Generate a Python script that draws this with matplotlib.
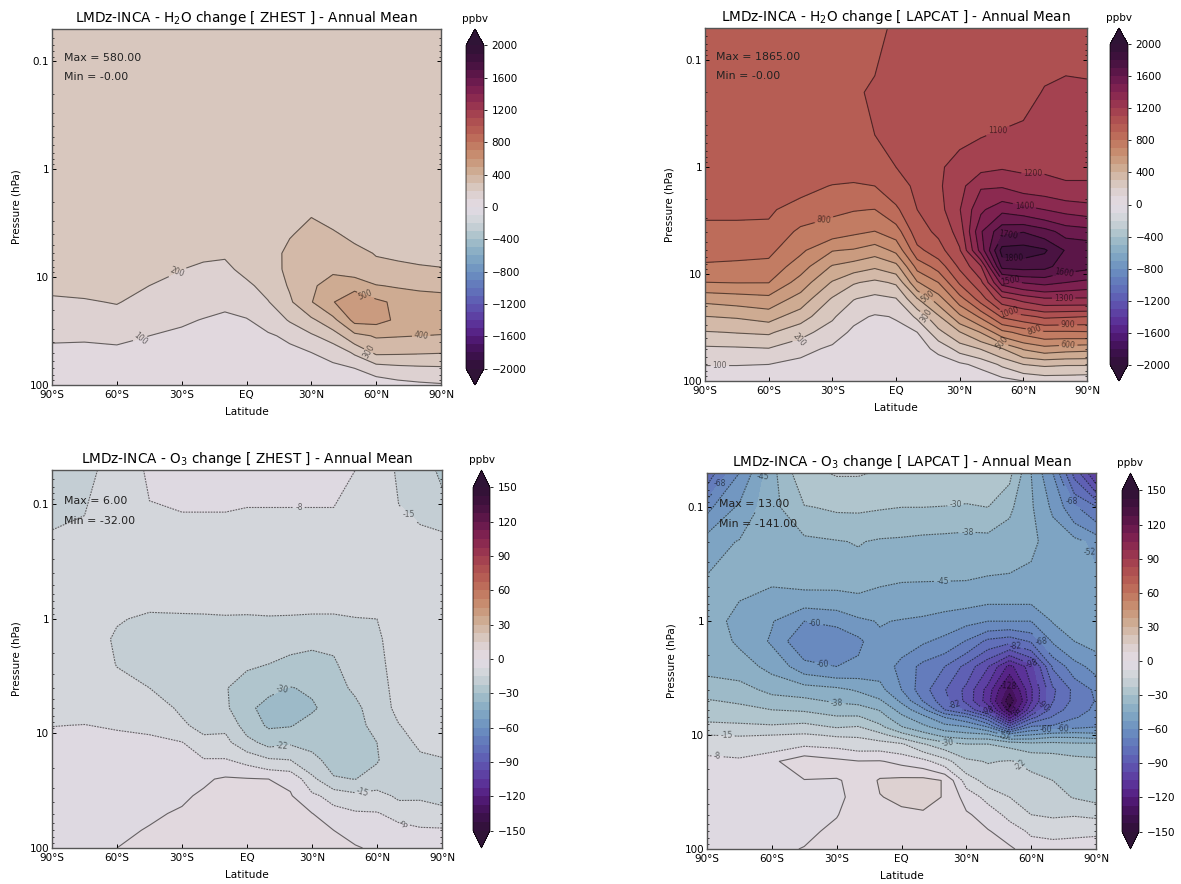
import numpy as np
import matplotlib
matplotlib.use('Agg')
import matplotlib.pyplot as plt

plt.rcParams['contour.negative_linestyle'] = 'dashed'
plt.rcParams['lines.dashed_pattern'] = (1.6, 0.9)
plt.rcParams['axes.unicode_minus'] = True

lats = [-90, -75, -60, -45, -30, -20, -10, 0, 10, 20, 30, 40, 50, 60, 70, 80, 90]
plevs = [100, 70, 50, 35, 25, 17, 12, 8.5, 6, 4, 2.5, 1.5, 1, 0.5, 0.2, 0.05]
plevs_fine = [100, 70, 50, 35, 25, 17, 12, 10, 8.5, 7, 6, 5, 4, 2.5, 1.5, 1, 0.5, 0.2, 0.1, 0.05]

# one row per latitude, from 100 hPa upwards
h2o_zhest = [
    [40, 60, 80, 113, 150, 185, 220, 240, 250, 255, 260, 260, 260, 260, 260, 260],
    [35, 55, 80, 110, 145, 192, 225, 240, 250, 255, 260, 260, 260, 260, 260, 260],
    [30, 50, 85, 115, 160, 205, 235, 245, 250, 255, 260, 260, 260, 260, 260, 260],
    [35, 55, 80, 100, 135, 170, 200, 225, 240, 250, 258, 260, 260, 260, 260, 260],
    [25, 45, 65, 85, 110, 145, 175, 200, 225, 245, 255, 260, 260, 260, 260, 260],
    [20, 35, 55, 75, 97, 125, 155, 185, 215, 240, 255, 260, 260, 260, 260, 260],
    [15, 30, 45, 65, 85, 115, 145, 180, 210, 240, 255, 260, 260, 260, 260, 260],
    [20, 35, 55, 75, 95, 135, 180, 225, 250, 260, 262, 262, 260, 260, 260, 260],
    [25, 40, 65, 90, 130, 195, 235, 255, 265, 268, 265, 262, 260, 260, 260, 260],
    [30, 55, 80, 115, 210, 285, 310, 325, 320, 295, 270, 265, 262, 260, 260, 260],
    [30, 65, 100, 185, 280, 395, 385, 365, 340, 320, 295, 265, 262, 260, 260, 260],
    [45, 80, 130, 250, 370, 495, 440, 385, 350, 310, 270, 260, 260, 260, 260, 260],
    [60, 100, 215, 370, 530, 570, 470, 345, 325, 280, 265, 260, 260, 260, 260, 260],
    [40, 150, 320, 410, 530, 525, 405, 325, 295, 275, 265, 260, 260, 260, 260, 260],
    [65, 170, 315, 405, 485, 475, 390, 320, 285, 270, 262, 260, 260, 260, 260, 260],
    [80, 180, 310, 400, 450, 450, 380, 310, 280, 270, 262, 260, 260, 260, 260, 260],
    [90, 185, 305, 395, 450, 440, 375, 305, 275, 268, 262, 260, 260, 260, 260, 260],
]

h2o_lapcat = [
    [50, 103, 180, 293, 398, 530, 698, 787, 833, 880, 915, 945, 960, 975, 985, 990],
    [50, 103, 185, 305, 410, 550, 703, 780, 830, 880, 915, 945, 960, 975, 985, 990],
    [45, 100, 195, 315, 440, 570, 702, 770, 825, 875, 915, 945, 960, 975, 985, 990],
    [30, 70, 135, 235, 345, 460, 555, 645, 720, 780, 855, 935, 965, 985, 990, 995],
    [25, 50, 80, 150, 215, 290, 390, 490, 605, 750, 820, 895, 960, 985, 995, 998],
    [20, 40, 65, 80, 125, 205, 310, 450, 590, 720, 805, 885, 955, 990, 990, 995],
    [18, 35, 55, 75, 90, 170, 275, 415, 545, 698, 798, 900, 975, 1000, 1010, 985],
    [20, 35, 55, 80, 105, 195, 315, 465, 625, 750, 880, 960, 1000, 1020, 1030, 1010],
    [15, 35, 60, 100, 220, 395, 590, 735, 870, 960, 1000, 1020, 1040, 1050, 1060, 1030],
    [10, 50, 125, 270, 385, 555, 700, 840, 960, 1020, 1060, 1085, 1090, 1070, 1065, 1045],
    [20, 80, 240, 395, 575, 760, 915, 1020, 1090, 1140, 1195, 1165, 1125, 1085, 1075, 1060],
    [15, 130, 305, 505, 720, 950, 1075, 1190, 1440, 1490, 1380, 1290, 1170, 1095, 1070, 1060],
    [60, 220, 395, 670, 915, 1170, 1440, 1730, 1840, 1670, 1475, 1290, 1190, 1110, 1060, 1060],
    [100, 300, 510, 735, 970, 1240, 1505, 1740, 1850, 1695, 1440, 1250, 1180, 1120, 1075, 1070],
    [130, 320, 560, 785, 1020, 1290, 1530, 1730, 1815, 1640, 1400, 1240, 1180, 1130, 1105, 1075],
    [130, 310, 540, 785, 1010, 1290, 1500, 1650, 1690, 1560, 1370, 1210, 1180, 1150, 1120, 1070],
    [120, 310, 530, 790, 1000, 1290, 1470, 1630, 1680, 1540, 1350, 1205, 1190, 1160, 1120, 1060],
]

o3_zhest = [
    [-1, -2, -3, -3.5, -4, -5, -6, -7.6, -9, -10, -10.5, -11, -11, -11, -13.6, -20],
    [-0.5, -2, -3, -3.5, -4, -5, -6, -7.4, -9, -10.5, -11, -11, -11, -11, -13, -17],
    [0, -1.5, -2.5, -3, -3.5, -4.5, -6, -8, -11, -13, -15.2, -16, -14.5, -12, -11, -12],
    [1.5, 0.5, -1, -2, -3, -4, -6, -9, -12, -15, -16.5, -17, -16, -12, -10, -6.5],
    [3, 2, 0.8, -1, -3, -5.5, -7.2, -14, -16, -17, -18, -18, -15.8, -12, -10, -5.5],
    [4, 3.5, 2.5, 1, -1, -7, -13, -17, -18, -18.5, -19, -19, -15.7, -12, -10, -5.5],
    [5, 5, 4, 3, 1, -7, -13, -16.5, -21, -22, -20, -19, -15.5, -12, -10, -5.5],
    [5, 5, 4, 2.5, 0.5, -10, -20, -26, -29, -26, -21.5, -19, -15.6, -12, -10, -6],
    [4, 4, 3, 1.5, 0, -14, -25, -31, -31.5, -29, -22.6, -19, -15.4, -12, -10, -6],
    [3, 3, 2, 0.6, -1.5, -15, -23.5, -30.5, -32, -30.3, -24.5, -20, -15.5, -12, -10, -6],
    [2, 1.5, 0.2, -6, -13, -21, -24, -27, -31, -29, -25, -21, -15.7, -12, -10, -6],
    [1, 0, -5, -10, -22, -24.5, -25, -25, -27, -24.5, -23.5, -21, -15.7, -12, -10, -6],
    [0.5, -2, -6.5, -13, -22.6, -25, -25, -24, -24, -21.5, -18.5, -17, -15.2, -12, -10, -7.5],
    [-1, -4, -7, -12, -20, -23, -22.5, -21, -19, -18, -17, -16, -15, -12, -10, -9],
    [-2, -5, -10, -16.5, -17, -18, -17, -15.3, -13, -12.5, -12, -12, -12, -11, -12, -16.5],
    [-3, -6.5, -11.5, -16, -16.5, -16, -14, -12, -11, -11, -11, -11, -11, -11, -13, -19],
    [-3.5, -6.5, -13, -17, -16, -15.4, -13, -11.5, -11, -11, -11, -11, -11, -11.5, -13, -24],
]

o3_lapcat = [
    [-2, -3, -4, -4.5, -5, -6, -10, -15, -20, -24.5, -27, -29.5, -33, -40, -41.5, -42, -43, -48.5, -62, -80],
    [-1, -2, -3, -4, -5, -6.5, -11, -15.5, -20, -26, -28, -31, -34, -42, -46, -47, -44, -44.5, -51, -60],
    [-1, -1.5, -3, -3.5, -4, -1.5, -12, -15, -21, -27, -30, -34, -40, -47, -53.5, -52, -45, -41, -40, -40],
    [0.2, -1, -1, -0.5, -0.3, 5, -9, -14, -20, -26, -31, -36, -41, -57, -67, -60, -44, -39.5, -30.5, -24],
    [2, 1, -0.2, -1, -0.3, 2, -10, -16, -23, -29, -34, -38.5, -43, -60, -66, -58, -44, -38, -29, -22],
    [3, 2.5, 2, 1.5, 1, 0.3, -12, -16, -22, -29, -34, -40, -46, -58, -62, -54, -43.5, -37, -29, -22],
    [3, 4, 5, 7.2, 8.5, 0.5, -12, -20, -28, -34, -38, -44, -50, -56, -54, -52, -45, -38.5, -29.5, -23],
    [3, 4, 6, 9, 9.5, -2, -14, -27, -37, -43, -48, -54, -60, -62, -57, -53, -46, -39, -30, -23.5],
    [2, 3, 6.5, 10, 10, -5, -22, -34, -43, -50, -58, -68, -72, -70, -59, -54, -46, -40, -30, -24],
    [2, 2.5, 4, 7, 7, -12, -27, -40, -49, -60, -75, -80, -82, -75, -62, -56, -46, -40.5, -30.3, -24],
    [3, 2, 1, -3, -11, -21, -30, -42, -52, -66, -84, -92, -92, -85, -68, -58, -46, -41, -31, -24],
    [2, 0.5, -3, -10, -18, -23, -30, -43, -60, -80, -100, -109, -108, -97, -77, -60, -47, -41, -30, -23.5],
    [1, -3, -10, -15, -19, -22, -32, -55, -85, -115, -132, -141, -132, -115, -80, -60, -47, -42, -36, -28],
    [-3, -9, -15, -19, -21, -24, -35, -52, -66, -85, -99, -106, -106, -101, -74, -60, -47, -44, -44, -45],
    [-4, -10, -16, -20, -22.5, -25, -35, -48, -66, -74, -79, -83, -84, -74, -59, -52, -48, -47, -54, -60],
    [-3.5, -9.5, -15.5, -23, -25, -27, -36, -48, -62, -68, -71, -73, -73, -63, -52.5, -50.5, -49, -50, -66, -85],
    [-3, -9, -16.5, -25, -25, -28, -36, -50, -60, -65, -66, -67, -66, -57, -50, -50, -49, -55, -74, -105],
]

h2o_levels = np.arange(-2000, 2001, 100)
h2o_ticks = np.arange(-2000, 2001, 400)
o3_levels = np.linspace(-150, 150, 41)
o3_ticks = np.arange(-150, 151, 30)

# manual contour label spots (lat, hPa)
labels_a = [(-32, 8.9), (-48, 38), (55, 15), (81, 35.6), (64.5, 45.6)]
labels_b = [(-83, 71), (-47, 40), (-34, 2.9), (48, 0.43), (64.5, 1.35), (60.5, 2.4),
            (53, 3.9), (55.7, 7.1), (79, 9.1), (54, 11), (79, 16.8), (54, 22),
            (81, 30), (64, 35.5), (81, 45), (48, 45), (15, 16), (15, 24)]
labels_c = [(24, 0.089), (74.5, 0.105), (16.4, 4.34), (16.4, 14), (54.6, 35), (77, 60)]
labels_d = [(25, 0.095), (30.5, 0.153), (19, 0.42), (-40, 1.19), (-36.5, 2.5), (-30, 5.5),
            (-81, 9.9), (-85, 13.7), (21.4, 12.2), (56, 17.6), (48, 10.1), (64.5, 1.6),
            (53, 1.76), (60, 2.86), (49.6, 3.87), (65, 5.07), (51, 6.2), (24.6, 5.6),
            (40, 6.08), (67, 8.9), (74.6, 9), (87, 0.25), (-84, 0.07), (-64, 0.06), (79, 0.092)]

W, H = 1181, 884
fig = plt.figure(figsize=(W / 100, H / 100), dpi=100)


def px_axes(x0, x1, y0, y1):
    return fig.add_axes([x0 / W, 1 - y1 / H, (x1 - x0) / W, (y1 - y0) / H])


def panel(box, cbox, data, plev, levels, ticks, title, maxmin, labels):
    ax = px_axes(*box)
    z = np.array(data).T
    cf = ax.contourf(lats, plev, z, levels=levels, cmap='twilight_shifted', extend='both')
    cs = ax.contour(lats, plev, z, levels=levels, colors='k', linewidths=0.8, alpha=0.55)
    ax.clabel(cs, fmt='%.0f', fontsize=5.5, manual=labels, inline=True, inline_spacing=2)
    ax.set_yscale('log')
    ax.set_ylim(100, 0.05)
    ax.set_xlim(-90, 90)
    ax.set_xticks([-90, -60, -30, 0, 30, 60, 90])
    ax.set_xticklabels(['90°S', '60°S', '30°S', 'EQ', '30°N', '60°N', '90°N'])
    ax.set_yticks([100, 10, 1, 0.1])
    ax.set_yticklabels(['100', '10', '1', '0.1'])
    ax.tick_params(which='both', direction='in', right=True, labelsize=7.5, pad=2)
    ax.tick_params(axis='x', pad=3.5)
    ax.tick_params(which='major', length=3, width=0.7)
    ax.tick_params(which='minor', length=1.5, width=0.5)
    ax.set_xlabel('Latitude', fontsize=7.6, labelpad=5)
    ax.set_ylabel('Pressure (hPa)', fontsize=7.5, labelpad=6)
    ax.set_title(title, fontsize=9.8, pad=5)
    for s in ax.spines.values():
        s.set_linewidth(1.0)
        s.set_color('#555555')
    ax.text(0.03, 0.918, maxmin[0], transform=ax.transAxes, fontsize=7.9, va='center', color='#222222')
    ax.text(0.03, 0.865, maxmin[1], transform=ax.transAxes, fontsize=7.9, va='center', color='#222222')

    cax = px_axes(*cbox)
    cb = fig.colorbar(cf, cax=cax, ticks=ticks, extend='both', extendfrac=0.051)
    cb.ax.tick_params(labelsize=7.5, length=2.5, width=0.6, pad=3)
    cb.outline.set_linewidth(0.5)
    cb.ax.set_title('ppbv', fontsize=7.5, pad=5)


panel((52, 441, 29, 385), (466, 484, 29, 385), h2o_zhest, plevs, h2o_levels, h2o_ticks,
      r'LMDz-INCA - H$_2$O change [ ZHEST ] - Annual Mean', ('Max = 580.00', 'Min = -0.00'), labels_a)
panel((705, 1087, 28, 381), (1110, 1128, 28, 381), h2o_lapcat, plevs, h2o_levels, h2o_ticks,
      r'LMDz-INCA - H$_2$O change [ LAPCAT ] - Annual Mean', ('Max = 1865.00', 'Min = -0.00'), labels_b)
panel((52, 442, 470, 848), (473, 490, 470, 848), o3_zhest, plevs, o3_levels, o3_ticks,
      r'LMDz-INCA - O$_3$ change [ ZHEST ] - Annual Mean', ('Max = 6.00', 'Min = -32.00'), labels_c)
panel((707, 1096, 473, 849), (1122, 1139, 473, 849), o3_lapcat, plevs_fine, o3_levels, o3_ticks,
      r'LMDz-INCA - O$_3$ change [ LAPCAT ] - Annual Mean', ('Max = 13.00', 'Min = -141.00'), labels_d)

plt.savefig('out.png', dpi=100)
plt.close()
